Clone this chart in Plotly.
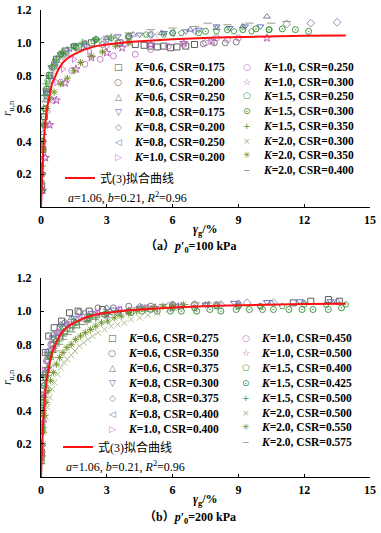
import plotly.graph_objects as go

# ---------------- data ----------------
# fitted curve of Eq.(3) (a=1.06, b=0.21), same in both panels
fit_g = [0, 0.03, 0.06, 0.1, 0.15, 0.2, 0.3, 0.4, 0.5, 0.6, 0.8, 1.0, 1.25, 1.5, 2.0, 2.5, 3.0, 4.0, 5.0, 6.0, 8.0, 10.0, 12.0, 13.9]
fit_r = [0, 0.13, 0.24, 0.34, 0.44, 0.52, 0.62, 0.69, 0.75, 0.78, 0.84, 0.88, 0.91, 0.93, 0.96, 0.98, 0.99, 1.005, 1.015, 1.022, 1.032, 1.038, 1.043, 1.045]

# panel (a)  p'0 = 100 kPa
a_K   = [0.6, 0.6, 0.6, 0.8, 0.8, 0.8, 1.0, 1.0, 1.0, 1.5, 1.5, 1.5, 2.0, 2.0, 2.0]
a_CSR = ["0.175", "0.200", "0.250", "0.175", "0.200", "0.250", "0.200", "0.250", "0.300",
         "0.250", "0.300", "0.350", "0.300", "0.350", "0.400"]

a01_g = [0.03, 0.08, 0.15, 0.25, 0.4, 0.7, 1.1, 1.7, 2.3, 3.6, 4.3, 4.7, 5.0, 5.3, 5.6, 5.9, 6.2, 6.6, 7.0]
a01_r = [0.12, 0.35, 0.55, 0.7, 0.8, 0.9, 0.95, 0.975, 1.0, 1.0, 0.99, 0.985, 0.98, 0.975, 0.98, 0.97, 0.975, 0.98, 0.99]
a02_g = [0.03, 0.1, 0.2, 0.35, 0.6, 1.0, 1.6, 2.1, 2.8, 3.5, 7.4, 7.9, 8.4, 8.9]
a02_r = [0.1, 0.4, 0.6, 0.75, 0.86, 0.93, 0.97, 0.98, 0.99, 1.0, 0.995, 1.0, 1.0, 1.005]
a03_g = [0.03, 0.1, 0.2, 0.4, 0.7, 1.2, 2.0, 3.0, 4.2, 5.5, 6.8, 8.0, 9.2, 10.3]
a03_r = [0.15, 0.45, 0.65, 0.8, 0.9, 0.96, 1.0, 1.03, 1.05, 1.06, 1.08, 1.09, 1.1, 1.16]
a04_g = [0.04, 0.12, 0.25, 0.5, 0.9, 1.5, 2.5, 3.5, 4.5, 5.6, 6.6, 7.2, 8.0, 8.6, 9.3, 10.0]
a04_r = [0.2, 0.5, 0.7, 0.85, 0.93, 0.98, 1.02, 1.04, 1.05, 1.06, 1.07, 1.08, 1.1, 1.09, 1.1, 1.1]
a05_g = [0.05, 0.15, 0.3, 0.6, 1.0, 1.8, 2.8, 4.0, 5.0, 11.2, 12.3, 13.5]
a05_r = [0.2, 0.5, 0.72, 0.85, 0.92, 0.97, 1.01, 1.03, 1.05, 1.115, 1.12, 1.125]
a06_g = [0.04, 0.1, 0.2, 0.4, 0.7, 1.2, 2.0, 3.0, 4.0, 5.0, 6.0, 7.0]
a06_r = [0.25, 0.5, 0.68, 0.8, 0.88, 0.94, 0.99, 1.02, 1.04, 1.05, 1.06, 1.07]
a07_g = [0.05, 0.1, 0.2, 0.3, 0.45, 0.7, 1.0, 1.5, 2.2, 3.0, 4.0]
a07_r = [0.2, 0.38, 0.5, 0.58, 0.66, 0.76, 0.84, 0.9, 0.95, 0.98, 1.0]
a08_g = [0.06, 0.15, 0.3, 0.55, 0.9, 1.4, 2.0, 2.7, 3.3, 4.3, 5.0, 5.8, 6.5, 7.5, 8.0, 8.5, 9.0]
a08_r = [0.1, 0.3, 0.5, 0.65, 0.76, 0.83, 0.87, 0.9, 0.92, 0.93, 0.96, 0.98, 0.99, 1.0, 1.03, 1.02, 1.03]
a09_g = [0.08, 0.2, 0.4, 0.7, 1.1, 1.6, 2.3, 3.0, 3.7, 5.0, 6.5, 7.8, 10.3]
a09_r = [0.1, 0.3, 0.5, 0.65, 0.755, 0.84, 0.91, 0.94, 0.97, 0.99, 1.0, 1.01, 1.03]
a10_g = [0.03, 0.08, 0.15, 0.3, 0.6, 1.0, 1.6, 2.4, 3.2, 4.0, 4.8, 5.6, 6.4, 7.2, 8.0, 8.8, 9.6, 10.4]
a10_r = [0.15, 0.4, 0.6, 0.77, 0.88, 0.94, 0.98, 1.01, 1.03, 1.04, 1.05, 1.05, 1.06, 1.06, 1.07, 1.07, 1.07, 1.08]
a11_g = [0.02, 0.06, 0.12, 0.25, 0.5, 0.9, 1.5, 2.5, 4.0, 6.0, 7.5, 8.5, 9.2, 9.8, 10.4, 11.0, 11.6, 12.2]
a11_r = [0.1, 0.35, 0.55, 0.72, 0.85, 0.93, 0.98, 1.02, 1.04, 1.06, 1.07, 1.08, 1.08, 1.085, 1.08, 1.085, 1.08, 1.07]
a12_g = [0.01, 0.03, 0.05, 0.08, 0.12, 0.18, 0.25, 0.35, 0.5, 0.7, 1.0, 1.4, 1.9, 2.5, 3.2]
a12_r = [0.1, 0.25, 0.4, 0.5, 0.6, 0.68, 0.75, 0.8, 0.86, 0.9, 0.94, 0.97, 1.0, 1.02, 1.03]
a13_g = [0.02, 0.05, 0.1, 0.18, 0.3, 0.5, 0.8, 1.2, 1.7, 2.2, 2.8, 3.4, 4.0, 4.6, 5.2]
a13_r = [0.15, 0.35, 0.52, 0.65, 0.75, 0.83, 0.89, 0.93, 0.96, 0.99, 1.01, 1.03, 1.04, 1.05, 1.05]
a14_g = [0.05, 0.1, 0.17, 0.26, 0.4, 0.6, 0.9, 1.2, 1.5, 1.8, 2.3, 2.8, 3.4, 4.0]
a14_r = [0.2, 0.35, 0.5, 0.6, 0.66, 0.7, 0.75, 0.785, 0.83, 0.88, 0.92, 0.945, 0.98, 1.0]
a15_g = [0.03, 0.1, 0.25, 0.5, 1.0, 2.0, 3.0, 4.0, 5.0, 6.0, 7.0, 7.6, 8.5, 9.5, 10.5, 11.2]
a15_r = [0.2, 0.5, 0.72, 0.86, 0.95, 1.01, 1.04, 1.06, 1.08, 1.09, 1.1, 1.12, 1.11, 1.12, 1.12, 1.13]

# panel (b)  p'0 = 200 kPa
b_K   = [0.6, 0.6, 0.6, 0.8, 0.8, 0.8, 1.0, 1.0, 1.0, 1.5, 1.5, 1.5, 2.0, 2.0, 2.0]
b_CSR = ["0.275", "0.350", "0.375", "0.300", "0.375", "0.400", "0.400", "0.450", "0.500",
         "0.400", "0.425", "0.500", "0.500", "0.550", "0.575"]

b01_g = [0.02, 0.05, 0.1, 0.2, 0.35, 0.6, 0.94, 1.3, 1.69, 2.2, 2.8, 11.5, 12.3, 13.1, 13.6]
b01_r = [0.15, 0.4, 0.6, 0.75, 0.85, 0.9, 0.94, 0.99, 1.0, 1.0, 1.01, 1.05, 1.06, 1.07, 1.06]
b02_g = [0.02, 0.06, 0.12, 0.25, 0.45, 0.75, 1.1, 1.76, 2.6, 3.3, 4.0, 5.0, 6.0, 7.0, 8.0]
b02_r = [0.12, 0.35, 0.55, 0.7, 0.8, 0.87, 0.93, 0.995, 1.02, 1.02, 1.03, 1.03, 1.04, 1.04, 1.04]
b03_g = [0.03, 0.08, 0.15, 0.3, 0.55, 0.9, 1.4, 2.0, 3.0, 4.5, 6.0, 7.5, 9.0, 10.5, 12.0, 13.5]
b03_r = [0.2, 0.45, 0.62, 0.76, 0.86, 0.92, 0.96, 0.99, 1.02, 1.03, 1.04, 1.04, 1.05, 1.05, 1.05, 1.06]
b04_g = [0.03, 0.08, 0.16, 0.3, 0.55, 0.9, 1.5, 2.3, 3.3, 4.5, 6.0, 7.5, 8.8, 10.3, 11.8, 13.2]
b04_r = [0.18, 0.42, 0.6, 0.74, 0.84, 0.91, 0.96, 0.99, 1.01, 1.02, 1.03, 1.04, 1.05, 1.055, 1.06, 1.06]
b05_g = [0.03, 0.1, 0.2, 0.4, 0.7, 1.1, 1.7, 2.5, 3.5, 4.6, 5.8, 7.0, 8.2, 9.4, 10.6]
b05_r = [0.2, 0.45, 0.63, 0.76, 0.85, 0.91, 0.95, 0.98, 1.0, 1.02, 1.03, 1.04, 1.04, 1.05, 1.05]
b06_g = [0.03, 0.08, 0.15, 0.3, 0.5, 0.8, 1.2, 1.8, 2.6, 3.6, 4.8, 6.2, 7.6, 9.0]
b06_r = [0.15, 0.38, 0.56, 0.7, 0.8, 0.87, 0.92, 0.96, 0.99, 1.01, 1.02, 1.03, 1.04, 1.04]
b07_g = [0.02, 0.06, 0.14, 0.25, 0.47, 0.8, 1.2, 1.8, 2.6, 3.6, 4.8, 6.0]
b07_r = [0.3, 0.5, 0.645, 0.74, 0.82, 0.88, 0.92, 0.96, 0.99, 1.01, 1.02, 1.03]
b08_g = [0.03, 0.08, 0.15, 0.3, 0.55, 0.9, 1.4, 2.1, 3.0, 4.0, 5.0, 6.0, 7.0, 8.0, 9.0, 10.0]
b08_r = [0.15, 0.38, 0.55, 0.7, 0.8, 0.87, 0.92, 0.96, 0.99, 1.0, 1.01, 1.02, 1.02, 1.03, 1.03, 1.03]
b09_g = [0.03, 0.08, 0.15, 0.3, 0.55, 0.9, 1.4, 2.1, 3.0, 4.0, 5.2, 6.4]
b09_r = [0.12, 0.33, 0.5, 0.65, 0.77, 0.85, 0.91, 0.95, 0.98, 1.0, 1.02, 1.03]
b10_g = [0.02, 0.05, 0.1, 0.2, 0.35, 0.6, 1.0, 1.5, 2.2, 3.0, 4.0, 5.0, 6.0, 7.0, 8.0, 9.0, 10.0, 11.0, 12.0, 13.0, 13.9]
b10_r = [0.12, 0.3, 0.48, 0.63, 0.74, 0.83, 0.9, 0.94, 0.97, 0.99, 1.0, 1.01, 1.02, 1.02, 1.03, 1.03, 1.03, 1.03, 1.04, 1.04, 1.04]
b11_g = [0.02, 0.05, 0.1, 0.2, 0.4, 0.7, 1.1, 1.6, 2.2, 2.9, 3.5, 4.1, 4.6, 5.3, 5.9, 6.4, 7.1, 7.7, 8.2, 8.9, 9.5, 10.1, 10.6, 11.3, 11.9, 12.4, 13.1, 13.7]
b11_r = [0.1, 0.28, 0.45, 0.6, 0.73, 0.82, 0.88, 0.93, 0.96, 0.98, 0.99, 0.99, 1.0, 1.0, 1.0, 1.0, 1.0, 1.01, 1.0, 1.01, 1.01, 1.01, 1.01, 1.01, 1.01, 1.01, 1.01, 1.02]
b12_g = [0.01, 0.03, 0.05, 0.08, 0.12, 0.17, 0.23, 0.3, 0.4, 0.52, 0.66, 0.82, 1.0, 1.2, 1.45, 1.75, 2.1, 2.5, 3.0]
b12_r = [0.08, 0.2, 0.3, 0.4, 0.48, 0.55, 0.61, 0.66, 0.71, 0.75, 0.79, 0.82, 0.85, 0.88, 0.9, 0.92, 0.94, 0.96, 0.98]
b13_g = [0.05, 0.1, 0.15, 0.22, 0.3, 0.4, 0.5, 0.62, 0.75, 0.9, 1.05, 1.2, 1.38, 1.55, 1.75, 1.95, 2.14, 2.35, 2.6, 2.9, 3.2, 3.5, 3.8, 4.1, 4.5, 4.88, 5.3, 5.8, 6.3]
b13_r = [0.1, 0.2, 0.28, 0.36, 0.42, 0.48, 0.53, 0.57, 0.62, 0.66, 0.69, 0.71, 0.735, 0.76, 0.79, 0.81, 0.83, 0.85, 0.87, 0.89, 0.91, 0.92, 0.93, 0.95, 0.96, 0.975, 0.99, 1.01, 1.02]
b14_g = [0.05, 0.1, 0.16, 0.24, 0.33, 0.44, 0.56, 0.7, 0.85, 1.0, 1.18, 1.38, 1.58, 1.8, 2.02, 2.26, 2.5, 2.76, 3.04, 3.34, 3.66, 4.0, 4.36, 4.74, 5.14, 5.56, 6.0, 6.5]
b14_r = [0.15, 0.27, 0.37, 0.45, 0.52, 0.58, 0.63, 0.68, 0.72, 0.75, 0.78, 0.8, 0.83, 0.85, 0.87, 0.89, 0.91, 0.93, 0.94, 0.96, 0.97, 0.99, 1.0, 1.01, 1.02, 1.03, 1.03, 1.04]
b15_g = [0.04, 0.08, 0.14, 0.21, 0.3, 0.4, 0.52, 0.66, 0.82, 1.0, 1.2, 1.4, 1.62, 1.86, 2.14, 2.44, 2.76, 3.1, 3.46, 3.84, 4.24, 4.66, 5.1, 5.56, 6.04, 6.54, 7.06, 7.6, 8.1]
b15_r = [0.2, 0.33, 0.45, 0.54, 0.61, 0.67, 0.72, 0.76, 0.8, 0.83, 0.86, 0.875, 0.9, 0.92, 0.935, 0.95, 0.97, 0.98, 0.99, 1.0, 1.02, 1.03, 1.03, 1.04, 1.04, 1.04, 1.05, 1.05, 1.05]

x_ticks = [0, 3, 6, 9, 12, 15]
y_ticks = [0.2, 0.4, 0.6, 0.8, 1.0, 1.2]
y_tick_text = ["0.2", "0.4", "0.6", "0.8", "1.0", "1.2"]

a_series = [(a01_g, a01_r), (a02_g, a02_r), (a03_g, a03_r), (a04_g, a04_r), (a05_g, a05_r),
            (a06_g, a06_r), (a07_g, a07_r), (a08_g, a08_r), (a09_g, a09_r), (a10_g, a10_r),
            (a11_g, a11_r), (a12_g, a12_r), (a13_g, a13_r), (a14_g, a14_r), (a15_g, a15_r)]
b_series = [(b01_g, b01_r), (b02_g, b02_r), (b03_g, b03_r), (b04_g, b04_r), (b05_g, b05_r),
            (b06_g, b06_r), (b07_g, b07_r), (b08_g, b08_r), (b09_g, b09_r), (b10_g, b10_r),
            (b11_g, b11_r), (b12_g, b12_r), (b13_g, b13_r), (b14_g, b14_r), (b15_g, b15_r)]

# ---------------- styles ----------------
SYMBOLS = ["square-open", "circle-open", "triangle-up-open", "triangle-down-open", "diamond-open",
           "triangle-left-open", "triangle-right-open", "circle-open", "star-open", "pentagon-open",
           "circle-open-dot", "cross-thin-open", "x-thin-open", "asterisk-open", "line-ew-open"]
GLYPHS = ["□", "○", "△", "▽", "◇", "◁", "▷", "○", "☆", "⬠", "⊙", "+", "×", "✳", "−"]
COLORS = ["#4d4d4d", "#6e6e6e", "#6d7394", "#5b64b0", "#8585b0", "#7a6fc0", "#d070d8",
          "#c478c4", "#b050b0", "#3f9f3f", "#2e8b2e", "#3a9a3a", "#aab88a", "#6b8e23", "#8f9070"]

SERIF = "Liberation Serif, Times New Roman, Noto Sans CJK SC, serif"
W, H = 381, 533
ML, MR, MT, MB = 41, 11, 10, 56


def px(xp):
    return (xp - ML) / (W - ML - MR)


def py(yp):
    return (H - MB - yp) / (H - MT - MB)


fig = go.Figure()

panels = [("x", "y", a_series, a_K, a_CSR, "legend"),
          ("x2", "y2", b_series, b_K, b_CSR, "legend2")]

for xa, ya, series, Ks, CSRs, lg in panels:
    for i, (g, r) in enumerate(series):
        fig.add_trace(go.Scatter(
            x=g, y=r, mode="markers", xaxis=xa, yaxis=ya, showlegend=False,
            name=f"K={Ks[i]}, CSR={CSRs[i]}",
            marker=dict(symbol=SYMBOLS[i], size=6, color=COLORS[i],
                        line=dict(width=0.9, color=COLORS[i]))))
    fig.add_trace(go.Scatter(
        x=fit_g, y=fit_r, mode="lines", xaxis=xa, yaxis=ya, legend=lg,
        name="式(3)拟合曲线", line=dict(color="#ff1010", width=2)))

axis_common = dict(showline=True, linecolor="black", linewidth=1, ticks="inside",
                   ticklen=3, tickcolor="black", showgrid=False, zeroline=False,
                   automargin=False,
                   tickfont=dict(family=SERIF, size=12, color="black", weight="bold"))

ytitle = dict(text="<i>r</i><sub>u,n</sub>", standoff=2, font=dict(family=SERIF, size=12))

fig.update_layout(
    width=W, height=H, margin=dict(l=ML, r=MR, t=MT, b=MB),
    paper_bgcolor="white", plot_bgcolor="white",
    font=dict(family=SERIF, color="black"),
    xaxis=dict(domain=[0, 1], anchor="y", range=[0, 15], tickvals=x_ticks,
               ticklabelstandoff=2, **axis_common),
    yaxis=dict(domain=[py(207), 1], anchor="x", range=[0, 1.2], tickvals=y_ticks,
               ticktext=y_tick_text, ticklabelstandoff=6, title=ytitle, **axis_common),
    xaxis2=dict(domain=[0, 1], anchor="y2", range=[0, 15], tickvals=x_ticks,
                ticklabelstandoff=2, **axis_common),
    yaxis2=dict(domain=[0, py(278)], anchor="x2", range=[0, 1.2], tickvals=y_ticks,
                ticktext=y_tick_text, ticklabelstandoff=6, title=ytitle, **axis_common),
    legend=dict(x=px(60), y=py(178), xanchor="left", yanchor="middle",
                bgcolor="rgba(0,0,0,0)", font=dict(family=SERIF, size=12)),
    legend2=dict(x=px(58), y=py(447), xanchor="left", yanchor="middle",
                 bgcolor="rgba(0,0,0,0)", font=dict(family=SERIF, size=12)),
)

# key (symbol + label) for each data series, two columns per panel
keys = [
    (a_K, a_CSR, 118, 132, 67, 15.0, 247, 261, 67, 14.7, 66, 197, 230, 247, "a", "100"),
    (b_K, b_CSR, 112, 126, 338, 15.1, 246, 259, 338, 14.9, 64, 466, 500, 518, "b", "200"),
]
for (Ks, CSRs, s1, t1, y1, d1, s2, t2, y2, d2, px_par, py_par, py_xt, py_cap, tag, p0) in keys:
    for i in range(15):
        if i < 7:
            sx, tx, yy = s1, t1, y1 + i * d1
        else:
            sx, tx, yy = s2, t2, y2 + (i - 7) * d2
        fig.add_annotation(x=px(sx), y=py(yy), xref="paper", yref="paper", showarrow=False,
                           text=GLYPHS[i], xanchor="center", yanchor="middle",
                           font=dict(family="DejaVu Sans, Noto Sans CJK SC", size=9, color=COLORS[i]))
        fig.add_annotation(x=px(tx), y=py(yy), xref="paper", yref="paper", showarrow=False,
                           text=f"<i>K</i>={Ks[i]}, CSR={CSRs[i]}", xanchor="left", yanchor="middle",
                           font=dict(family=SERIF, size=11.5, color="black", weight="bold"))
    fig.add_annotation(x=px(px_par), y=py(py_par), xref="paper", yref="paper", showarrow=False,
                       text="<i>a</i>=1.06, <i>b</i>=0.21, <i>R</i><sup>2</sup>=0.96",
                       xanchor="left", yanchor="middle",
                       font=dict(family=SERIF, size=12, color="black"))
    # x-axis title
    fig.add_annotation(x=px(205), y=py(py_xt), xref="paper", yref="paper", showarrow=False,
                       text="<i>γ</i><sub>g</sub>/%", xanchor="center", yanchor="middle",
                       font=dict(family=SERIF, size=12, color="black", weight="bold"))
    fig.add_annotation(x=px(190), y=py(py_cap), xref="paper", yref="paper", showarrow=False,
                       text=f"（{tag}）<i>p</i>′<sub>0</sub>={p0} kPa",
                       xanchor="center", yanchor="middle",
                       font=dict(family=SERIF, size=12, color="black", weight="bold"))

fig.write_html("out.html", config={"displayModeBar": False},
               post_script="document.body.style.margin='0px';document.body.style.padding='0px';")
